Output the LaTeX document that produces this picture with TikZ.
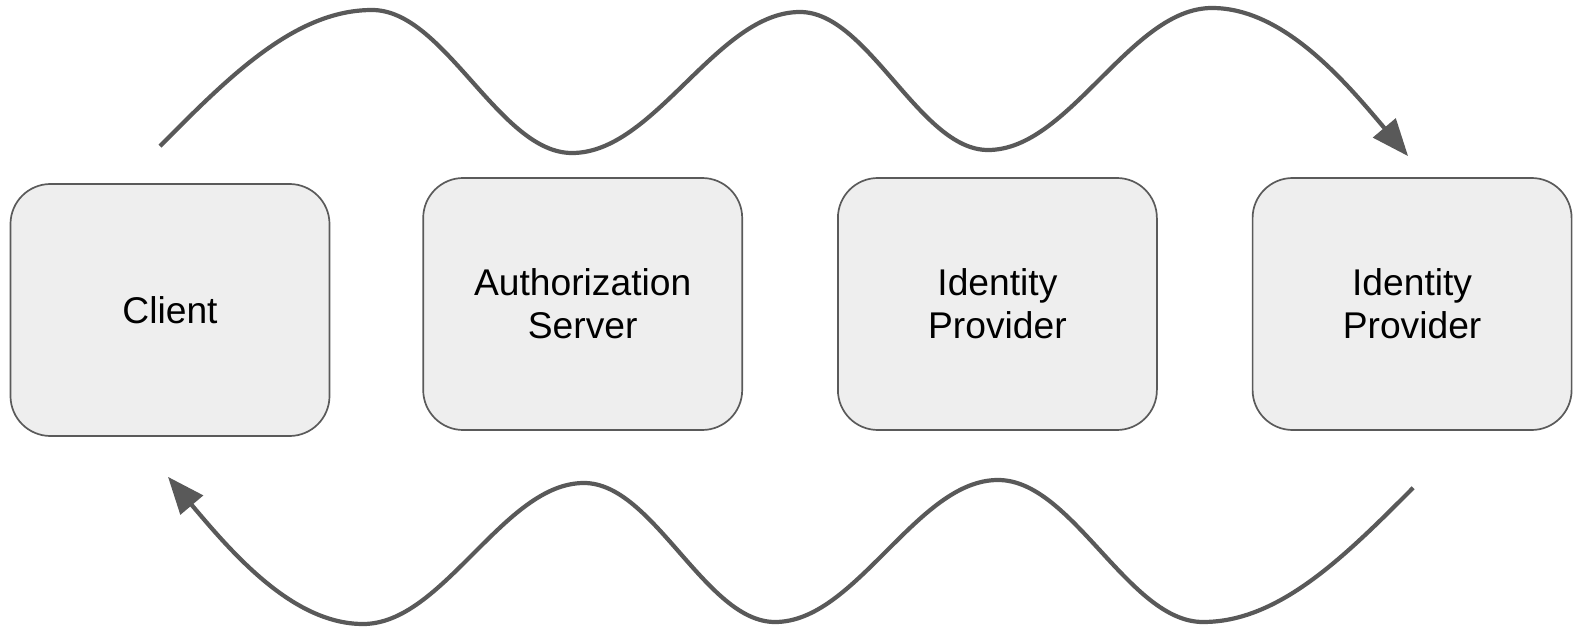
\documentclass[tikz,border=0pt]{standalone}
\usepackage{fontspec}
\setmainfont{Liberation Sans}
\usepackage{tikz}
\usetikzlibrary{arrows.meta, calc, positioning}

\definecolor{boxfill}{HTML}{EEEEEE}
\definecolor{boxline}{HTML}{5A5A5A}
\definecolor{waveline}{HTML}{595959}

\begin{document}
\begin{tikzpicture}[
      x=0.5pt, y=-0.5pt,
      font=\fontsize{18.6}{21.5}\selectfont,
      party/.style={draw=boxline, fill=boxfill, line width=0.85pt, rounded corners=20pt,
        align=center, minimum width=159.5pt, minimum height=126pt, inner sep=0pt},
      wave/.style={draw=waveline, line width=2.1pt, -{Triangle[length=18.5pt, width=14.5pt]}}
    ]

    \useasboundingbox (0,0) rectangle (1576,631);

    \node[party] (client) at (170,310) {Client};
    \node[party, right=46pt of client, yshift=3pt] (authz) {Authorization\\Server};
    \node[party, right=47pt of authz] (idpA) {Identity\\Provider};
    \node[party, right=47pt of idpA] (idpB) {Identity\\Provider};

    \coordinate (topstart) at ($(client.north)+(-10,-37)$);
    \coordinate (topend) at ($(idpB.north)+(-4,-21)$);
    \coordinate (botstart) at ($(idpB.south)+(1,57)$);
    \coordinate (botend) at ($(client.south)+(-2,40)$);

    % request goes out over the top
    \draw[wave] (topstart) sin (372,10) cos (472,81.5) sin (572,153)
      cos (686,82.5) sin (800,12) cos (894,81) sin (988,150)
      cos (1100,79) sin (1212,8) cos (topend);

    % and comes back underneath
    \draw[wave] (botstart) sin (1203,622) cos (1100.5,551) sin (998,480)
      cos (886.5,551) sin (775,622) cos (679.5,552.5) sin (584,483)
      cos (473.5,553.5) sin (363,624) cos (botend);

    \end{tikzpicture}
\end{document}
